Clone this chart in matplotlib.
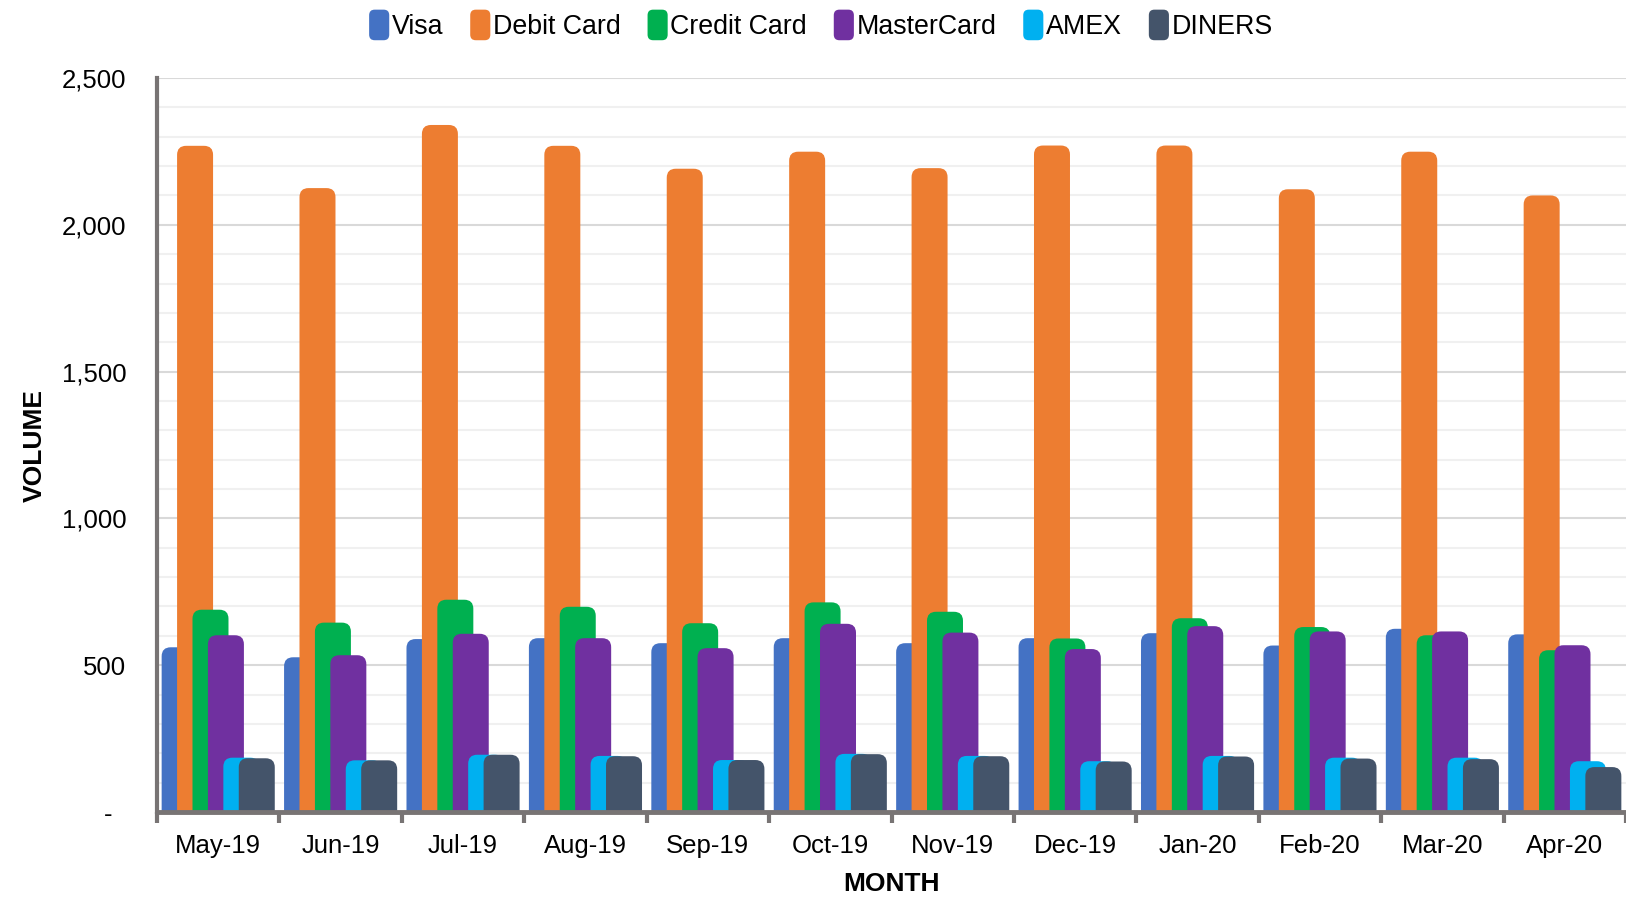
import numpy as np
import matplotlib
matplotlib.use('Agg')
import matplotlib.pyplot as plt
from matplotlib.patches import FancyBboxPatch, Patch
from matplotlib.legend_handler import HandlerPatch
from matplotlib.ticker import FuncFormatter, MultipleLocator

plt.rcParams['font.family'] = ['Liberation Sans', 'DejaVu Sans']

# Monthly card volumes
months = ['May-19', 'Jun-19', 'Jul-19', 'Aug-19', 'Sep-19', 'Oct-19',
          'Nov-19', 'Dec-19', 'Jan-20', 'Feb-20', 'Mar-20', 'Apr-20']
visa = [561, 527, 589, 592, 575, 592, 575, 592, 609, 567, 624, 605]
debit_card = [2269, 2125, 2340, 2269, 2191, 2249, 2193, 2270, 2270, 2121, 2249, 2100]
credit_card = [689, 645, 723, 699, 643, 714, 682, 591, 660, 630, 602, 551]
mastercard = [602, 534, 607, 592, 558, 641, 611, 555, 633, 615, 615, 568]
amex = [185, 176, 195, 191, 177, 198, 191, 173, 191, 185, 185, 173]
diners = [183, 176, 195, 190, 177, 197, 190, 172, 189, 182, 180, 153]

series_names = ['Visa', 'Debit Card', 'Credit Card', 'MasterCard', 'AMEX', 'DINERS']
series_values = [visa, debit_card, credit_card, mastercard, amex, diners]
colors = ['#4472C4', '#ED7D31', '#00B050', '#7030A0', '#00B0F0', '#44546A']

axis_grey = '#787474'

fig = plt.figure(figsize=(16.26, 9.01), dpi=100)
ax = fig.add_axes([157 / 1626, (901 - 812) / 901, (1626 - 157) / 1626, (812 - 78) / 901])

x = np.arange(len(months))
bar_w = 0.294
step = 0.126
ymax = 2500
ax.set_xlim(-0.5, len(months) - 0.5)
ax.set_ylim(0, ymax)

# data units per pixel ratio so the rounded corners stay circular
ax_w_px = (1626 - 157)
ax_h_px = (812 - 78)
aspect = (ymax / ax_h_px) / (len(months) / ax_w_px)
radius = 9 * len(months) / ax_w_px
below = 60  # start bars under the axis so only the top corners show

for i, (name, vals, col) in enumerate(zip(series_names, series_values, colors)):
    bars = ax.bar(x + (i - 2.5) * step, vals, bar_w, color=col, label=name)
    for rect in bars:
        bx, bw, bh = rect.get_x(), rect.get_width(), rect.get_height()
        rect.set_visible(False)
        fb = FancyBboxPatch((bx, -below), bw, bh + below,
                            boxstyle=f'round,pad=0,rounding_size={radius}',
                            mutation_aspect=aspect, facecolor=col,
                            edgecolor='none', zorder=2 + i * 0.01)
        ax.add_patch(fb)

# grid
ax.yaxis.set_major_locator(MultipleLocator(500))
ax.yaxis.set_minor_locator(MultipleLocator(100))
ax.grid(which='minor', axis='y', color='#F0F0F0', linewidth=1.5, zorder=0)
ax.grid(which='major', axis='y', color='#D9D9D9', linewidth=1.5, zorder=0)
ax.set_axisbelow(True)

ax.yaxis.set_major_formatter(FuncFormatter(lambda v, p: '-  ' if v == 0 else f'{v:,.0f}'))
ax.tick_params(axis='y', which='both', length=0, labelsize=18.5, pad=22)

ax.set_xticks(x)
ax.set_xticklabels(months)
ax.set_xticks(np.arange(-0.5, len(months)), minor=True)
ax.tick_params(axis='x', which='major', length=0, labelsize=18.5, pad=16)
ax.tick_params(axis='x', which='minor', length=8, width=3, color=axis_grey, direction='out')

for s in ['top', 'right']:
    ax.spines[s].set_visible(False)
ax.spines['left'].set_color(axis_grey)
ax.spines['left'].set_linewidth(3)
ax.spines['bottom'].set_color(axis_grey)
ax.spines['bottom'].set_linewidth(3.5)
ax.spines['left'].set_zorder(5)
ax.spines['bottom'].set_zorder(5)

ax.set_xlabel('MONTH', fontsize=19, fontweight='bold')
ax.xaxis.set_label_coords(0.5, -0.082)
ax.set_ylabel('VOLUME', fontsize=19, fontweight='bold')
ax.yaxis.set_label_coords(-0.075, 0.5)


def round_handle(legend, orig_handle, xdescent, ydescent, width, height, fontsize):
    return FancyBboxPatch((-xdescent, -ydescent - 3), width, height + 6,
                          boxstyle='round,pad=0,rounding_size=4')


handles = [Patch(facecolor=c, edgecolor='none', label=n) for n, c in zip(series_names, colors)]
fig.legend(handles=handles, loc='center', bbox_to_anchor=(821 / 1626, 1 - 27 / 901),
           ncol=6, frameon=False, fontsize=19.3, handlelength=0.75, handleheight=0.9,
           handletextpad=0.1, columnspacing=1.0,
           handler_map={Patch: HandlerPatch(patch_func=round_handle)})

fig.savefig('out.png', dpi=100)
